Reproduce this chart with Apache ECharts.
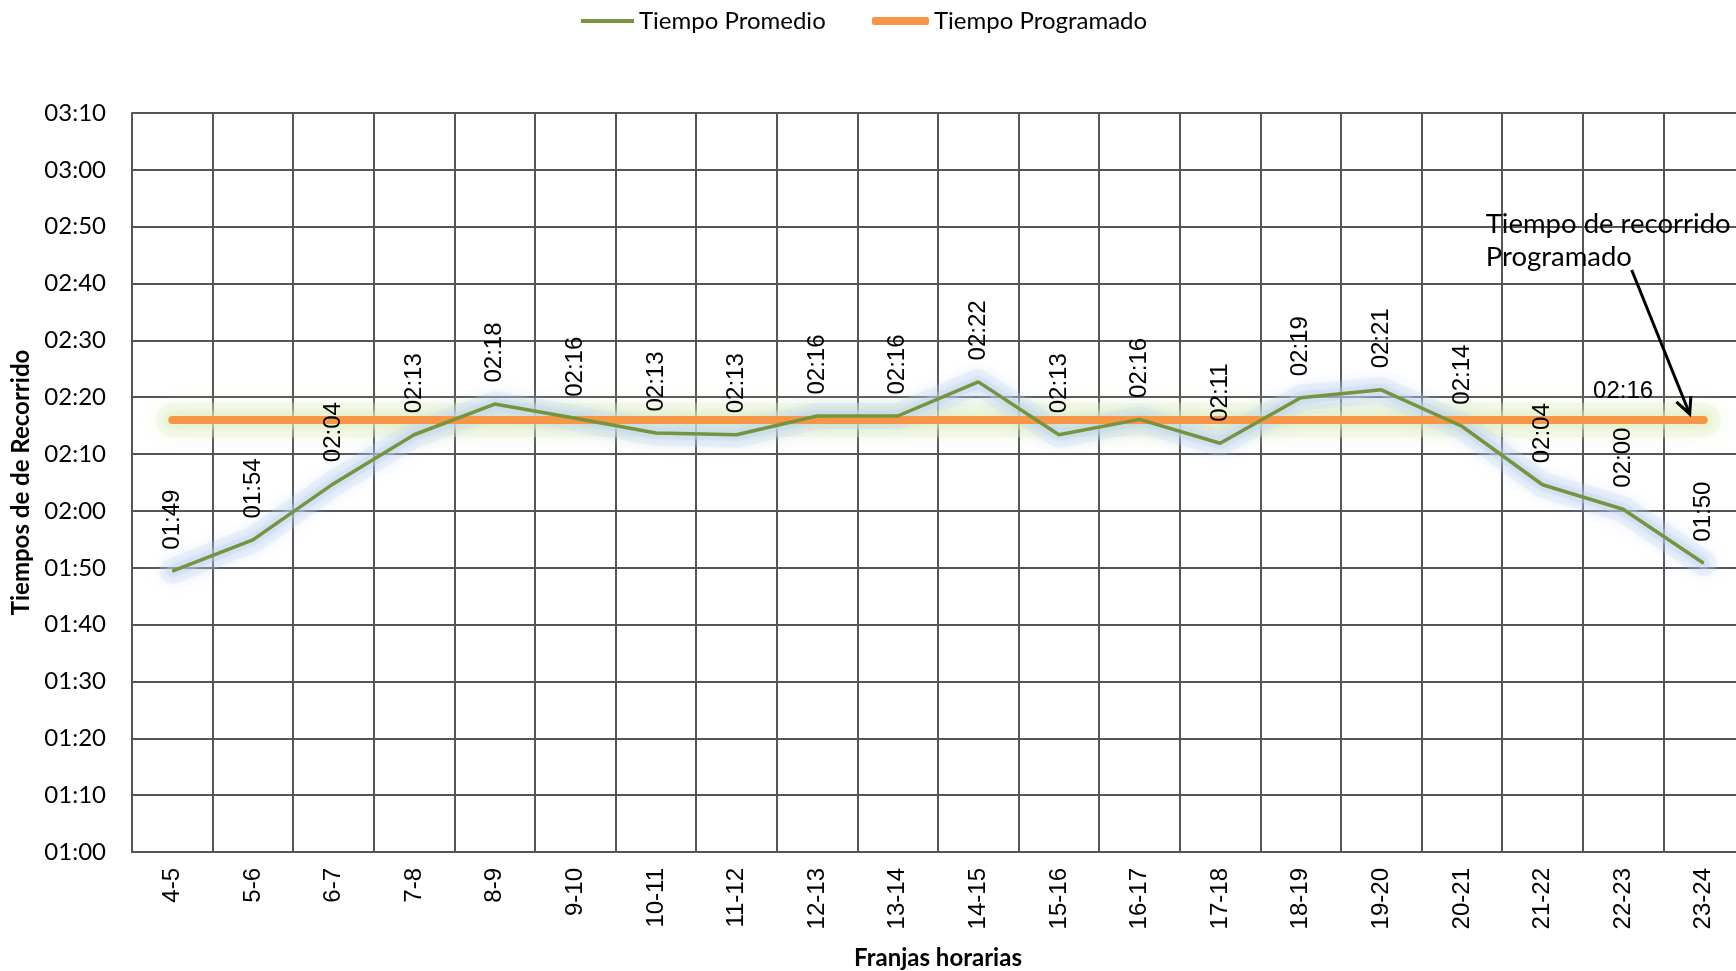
<!DOCTYPE html>
<html>
<head>
<meta charset="utf-8">
<script src="https://cdn.jsdelivr.net/npm/echarts@6/dist/echarts.min.js"></script>
<style>
html,body{margin:0;padding:0;background:#fff;}
#main{width:1736px;height:971px;}
</style>
</head>
<body>
<div id="main"></div>
<script>
// Categories (time bands)
var categories = ['4-5','5-6','6-7','7-8','8-9','9-10','10-11','11-12','12-13','13-14','14-15','15-16','16-17','17-18','18-19','19-20','20-21','21-22','22-23','23-24'];
// Average travel time, in minutes
var promedio = [109.4, 114.9, 124.8, 133.4, 138.8, 136.3, 133.7, 133.4, 136.7, 136.7, 142.7, 133.4, 136.1, 131.9, 139.9, 141.3, 134.9, 124.6, 120.3, 110.8];
// Scheduled travel time, in minutes
var programado = [136,136,136,136,136,136,136,136,136,136,136,136,136,136,136,136,136,136,136,136];
// Y axis range (minutes)
var yMin = 60, yMax = 190, yStep = 10;
var programadoLabelIndex = 18;
var annotationText = 'Tiempo de recorrido\nProgramado';

function fmt(v){
  v = Math.floor(v + 1e-9);
  var h = Math.floor(v/60), m = v % 60;
  return (h<10?'0':'')+h+':'+(m<10?'0':'')+m;
}

var chart = echarts.init(document.getElementById('main'));
var gridColor = '#555555';

var progData = programado.map(function(v,i){
  if(i === programadoLabelIndex){
    return {value: v, label: {show: true}};
  }
  return v;
});

function glow(name, data, color, shadow, width, blur){
  return {
    name: name, type: 'line', data: data, symbol: 'none', silent: true, z: 1,
    lineStyle: {color: color, width: width, cap: 'round', join: 'round', shadowColor: shadow, shadowBlur: blur}
  };
}

chart.setOption({
  animation: false,
  backgroundColor: '#ffffff',
  legend: [
    {
      data: [{name: 'Tiempo Promedio', icon: 'rect'}],
      left: 576, top: 4,
      itemWidth: 53, itemHeight: 4, itemGap: 5,
      textStyle: {fontFamily: 'Lato', fontSize: 24, color: '#000'}
    },
    {
      data: [{name: 'Tiempo Programado', icon: 'roundRect'}],
      left: 867, top: 4,
      itemWidth: 57, itemHeight: 8, itemGap: 5,
      textStyle: {fontFamily: 'Lato', fontSize: 24, color: '#000'}
    }
  ],
  grid: {left: 132, right: -8, top: 113, bottom: 119, containLabel: false, outerBoundsMode: 'none'},
  xAxis: {
    type: 'category',
    data: categories,
    boundaryGap: true,
    name: 'Franjas horarias',
    nameLocation: 'middle',
    nameGap: 94,
    nameTextStyle: {fontFamily: 'Lato', fontWeight: 'bold', fontSize: 24, color: '#000'},
    axisLine: {show: true, lineStyle: {color: gridColor, width: 2}},
    axisTick: {show: false},
    axisLabel: {rotate: 90, margin: 16, fontFamily: 'Liberation Sans', fontSize: 24, color: '#000', interval: 0},
    splitLine: {show: true, interval: 0, lineStyle: {color: gridColor, width: 2}}
  },
  yAxis: {
    type: 'value',
    min: yMin, max: yMax, interval: yStep,
    name: 'Tiempos de de Recorrido',
    nameLocation: 'middle',
    nameGap: 96,
    nameTextStyle: {fontFamily: 'Lato', fontWeight: 'bold', fontSize: 24, color: '#000'},
    axisLine: {show: true, lineStyle: {color: gridColor, width: 2}},
    axisTick: {show: false},
    axisLabel: {formatter: function(v){return fmt(v);}, margin: 26, fontFamily: 'Lato', fontSize: 24, color: '#000'},
    splitLine: {show: true, lineStyle: {color: gridColor, width: 2}}
  },
  series: [
    glow('glowProg1', programado, 'rgba(230,242,205,0.28)', 'rgba(215,235,175,0.9)', 34, 18),
    glow('glowProg2', programado, 'rgba(225,240,195,0.3)', 'rgba(215,235,175,0.9)', 18, 14),
    glow('glowProm1', promedio, 'rgba(195,215,242,0.22)', 'rgba(170,200,240,0.9)', 26, 16),
    glow('glowProm2', promedio, 'rgba(190,212,242,0.3)', 'rgba(170,200,240,0.9)', 12, 12),
    {
      name: 'Tiempo Programado',
      type: 'line',
      data: progData,
      symbol: 'circle',
      symbolSize: 1,
      showSymbol: true,
      z: 2,
      color: '#F79646',
      itemStyle: {color: '#F79646'},
      lineStyle: {color: '#F79646', width: 8, cap: 'round'},
      label: {
        show: false,
        position: 'top',
        distance: 16,
        formatter: function(p){return fmt(p.value);},
        fontFamily: 'Liberation Sans', fontSize: 24, color: '#000'
      }
    },
    {
      name: 'Tiempo Promedio',
      type: 'line',
      data: promedio,
      symbol: 'circle',
      symbolSize: 1,
      showSymbol: true,
      z: 3,
      color: '#77933C',
      itemStyle: {color: '#77933C'},
      lineStyle: {color: '#77933C', width: 3.5},
      label: {
        show: true,
        position: 'top',
        distance: 21,
        rotate: 90,
        align: 'left',
        verticalAlign: 'middle',
        formatter: function(p){return fmt(p.value);},
        fontFamily: 'Liberation Sans', fontSize: 24, color: '#000'
      }
    }
  ]
});

// Annotation arrow pointing at the scheduled line's last point
var lastIdx = categories.length - 1;
var tip = chart.convertToPixel({gridIndex: 0}, [lastIdx, programado[lastIdx]]);
var tx = tip[0] - 14, ty = tip[1] - 6;
var sx = tx - 58, sy = ty - 144;
var ang = Math.atan2(ty - sy, tx - sx);
var hl = 18, ha = 0.45;
var h1 = [tx - hl*Math.cos(ang - ha), ty - hl*Math.sin(ang - ha)];
var h2 = [tx - hl*Math.cos(ang + ha), ty - hl*Math.sin(ang + ha)];
chart.setOption({
  graphic: [
    {
      type: 'text',
      left: sx - 146, top: sy - 62,
      style: {text: annotationText, fontFamily: 'Lato', fontSize: 27.5, lineHeight: 33, fill: '#000'},
      z: 100
    },
    {
      type: 'polyline',
      shape: {points: [[sx, sy], [tx, ty]]},
      style: {stroke: '#000', lineWidth: 3},
      z: 100
    },
    {
      type: 'polyline',
      shape: {points: [h1, [tx, ty], h2]},
      style: {stroke: '#000', lineWidth: 3, fill: null},
      z: 100
    }
  ]
});
</script>
</body>
</html>
